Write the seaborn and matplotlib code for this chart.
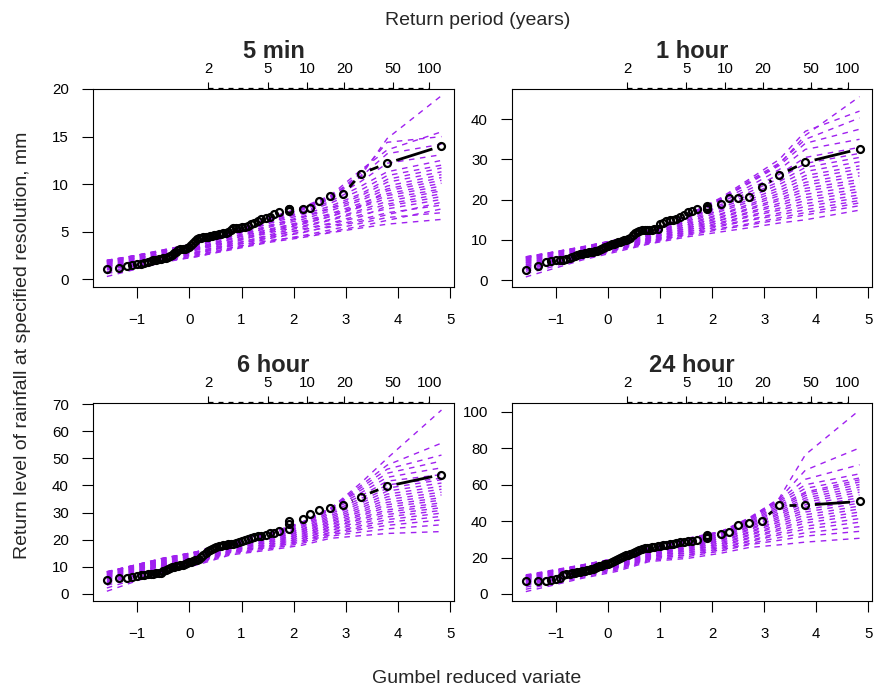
import numpy as np
import pandas as pd
import matplotlib
matplotlib.use("Agg")
import matplotlib.pyplot as plt
import matplotlib.transforms as mtransforms
import seaborn as sns

# Gumbel reduced variate of each observed annual maximum (rank 1..70)
obs_x = [-1.58, -1.34, -1.20, -1.09, -1.00, -0.93, -0.86, -0.80, -0.74, -0.69,
         -0.64, -0.59, -0.54, -0.50, -0.45, -0.41, -0.37, -0.33, -0.29, -0.25,
         -0.21, -0.17, -0.13, -0.09, -0.05, -0.01, 0.03, 0.07, 0.11, 0.15,
         0.19, 0.23, 0.27, 0.31, 0.35, 0.39, 0.43, 0.47, 0.52, 0.56,
         0.60, 0.65, 0.70, 0.74, 0.79, 0.84, 0.89, 0.95, 1.00, 1.06,
         1.12, 1.18, 1.24, 1.31, 1.38, 1.46, 1.54, 1.62, 1.71, 1.90,
         1.90, 1.90, 2.17, 2.32, 2.49, 2.70, 2.95, 3.29, 3.79, 4.83]

# positions (ranks 1, 14, 30, 45, 57, 63, 66, 68, 69, 70) where the simulated members were read
sim_x = [-1.58, -0.50, 0.15, 0.79, 1.54, 2.17, 2.70, 3.29, 3.79, 4.83]

durations = ["5 min", "1 hour", "6 hour", "24 hour"]
return_periods = [2, 5, 10, 20, 50, 100]

obs_5min = [1.1, 1.2, 1.45, 1.55, 1.6, 1.65, 1.7, 1.85, 1.95, 2.0,
            2.05, 2.1, 2.15, 2.2, 2.25, 2.35, 2.5, 2.6, 2.75, 2.9,
            3.05, 3.15, 3.2, 3.2, 3.3, 3.45, 3.65, 3.85, 4.0, 4.2,
            4.3, 4.35, 4.4, 4.45, 4.5, 4.55, 4.6, 4.65, 4.7, 4.75,
            4.8, 4.85, 4.9, 5.0, 5.2, 5.35, 5.4, 5.45, 5.5, 5.55,
            5.65, 5.8, 5.9, 6.1, 6.3, 6.45, 6.6, 6.9, 7.1, 7.2,
            7.35, 7.4, 7.4, 7.45, 8.25, 8.8, 8.95, 11.1, 12.2, 14.0]

obs_1hr = [2.6, 3.6, 4.4, 4.8, 4.9, 5.0, 5.1, 5.2, 5.4, 5.7,
           5.9, 6.2, 6.4, 6.6, 6.7, 6.8, 6.9, 7.0, 7.1, 7.2,
           7.3, 7.5, 7.7, 8.0, 8.2, 8.4, 8.7, 8.9, 9.1, 9.3,
           9.4, 9.55, 9.7, 9.9, 10.1, 10.3, 10.5, 11.2, 11.6, 12.0,
           12.2, 12.4, 12.45, 12.5, 12.5, 12.5, 12.6, 12.7, 14.0, 14.3,
           14.6, 14.9, 15.0, 15.1, 15.8, 16.3, 16.9, 17.3, 17.6, 17.7,
           18.0, 18.4, 18.9, 20.3, 20.3, 20.7, 23.1, 26.1, 29.3, 32.6]

obs_6hr = [5.3, 5.8, 6.0, 6.1, 6.6, 7.0, 7.1, 7.2, 7.3, 7.45,
           7.55, 7.65, 7.8, 8.3, 8.9, 9.2, 9.5, 9.8, 10.0, 10.2,
           10.4, 10.6, 10.8, 11.0, 11.3, 11.6, 11.8, 12.0, 12.4, 12.7,
           13.0, 13.5, 14.3, 15.1, 15.7, 16.1, 16.5, 16.9, 17.2, 17.5,
           17.7, 18.0, 18.2, 18.3, 18.4, 18.5, 18.9, 19.2, 19.4, 19.8,
           20.1, 20.8, 21.0, 21.2, 21.5, 21.9, 22.3, 22.6, 23.2, 24.0,
           25.7, 26.9, 27.6, 29.4, 31.1, 31.8, 32.9, 35.9, 39.7, 44.0]

obs_24hr = [7.3, 7.3, 7.3, 7.6, 8.2, 9.0, 10.4, 10.8, 11.2, 11.5,
            11.8, 12.1, 12.3, 12.5, 12.8, 13.1, 13.4, 13.7, 14.0, 14.3,
            14.7, 15.1, 15.5, 15.9, 16.3, 16.7, 17.1, 17.5, 18.0, 18.6,
            19.2, 19.7, 20.2, 20.7, 21.2, 21.6, 22.1, 22.6, 23.0, 23.5,
            24.1, 24.6, 25.0, 25.2, 25.4, 25.6, 26.0, 26.3, 26.6, 26.9,
            27.1, 27.3, 27.6, 27.9, 28.3, 28.6, 28.9, 29.2, 29.4, 30.6,
            31.5, 32.3, 33.0, 34.0, 38.0, 39.1, 40.2, 48.8, 48.8, 50.8]

sim_5min = [
    [0.3, 1.8, 2.4, 3.1, 3.9, 4.4, 4.9, 5.4, 5.8, 6.3],
    [0.6, 1.9, 2.4, 3.2, 4.0, 4.6, 5.2, 5.9, 6.5, 7.0],
    [1.2, 2.1, 2.6, 3.3, 4.1, 4.5, 5.0, 5.6, 6.2, 7.4],
    [0.8, 2.0, 2.5, 3.3, 4.3, 4.9, 5.6, 6.3, 7.0, 7.8],
    [1.4, 2.3, 2.8, 3.5, 4.4, 5.0, 5.5, 6.1, 6.8, 8.1],
    [1.0, 2.1, 2.7, 3.5, 4.5, 5.3, 5.9, 6.8, 7.4, 8.4],
    [1.6, 2.4, 2.9, 3.7, 4.6, 5.2, 5.8, 6.6, 7.7, 8.7],
    [1.1, 2.2, 2.8, 3.6, 4.7, 5.5, 6.2, 7.1, 7.9, 9.0],
    [1.7, 2.5, 3.1, 3.9, 4.9, 5.6, 6.3, 7.3, 8.2, 9.3],
    [1.3, 2.3, 2.9, 3.8, 5.0, 5.8, 6.6, 7.6, 8.5, 9.5],
    [1.8, 2.6, 3.2, 4.0, 5.1, 5.9, 6.6, 7.7, 8.8, 9.8],
    [1.5, 2.4, 3.1, 4.0, 5.2, 6.1, 6.9, 8.0, 9.0, 10.1],
    [1.9, 2.7, 3.3, 4.2, 5.3, 6.0, 6.8, 7.8, 9.3, 10.4],
    [1.4, 2.5, 3.2, 4.2, 5.5, 6.3, 7.2, 8.3, 9.5, 10.7],
    [1.8, 2.7, 3.4, 4.3, 5.6, 6.5, 7.4, 8.5, 9.8, 11.0],
    [1.6, 2.6, 3.3, 4.4, 5.7, 6.6, 7.5, 8.8, 10.2, 11.3],
    [2.0, 2.9, 3.6, 4.5, 5.9, 6.8, 7.7, 9.0, 10.5, 11.7],
    [1.7, 2.8, 3.5, 4.6, 6.0, 7.0, 8.0, 9.4, 10.9, 12.0],
    [1.9, 3.0, 3.7, 4.7, 6.1, 7.1, 8.2, 9.8, 11.3, 12.5],
    [1.8, 2.9, 3.6, 4.7, 6.2, 7.3, 8.4, 10.3, 12.2, 13.1],
    [2.0, 3.0, 3.7, 4.8, 6.3, 7.4, 8.5, 10.8, 13.2, 14.2],
    [1.9, 3.1, 3.8, 4.8, 6.4, 7.5, 8.6, 11.2, 14.4, 15.0],
    [2.0, 3.0, 3.7, 4.9, 6.5, 7.6, 8.8, 11.5, 13.6, 15.5],
    [1.9, 3.1, 3.8, 4.9, 6.4, 7.5, 8.7, 10.9, 14.8, 19.3],
]

sim_1hr = [
    [0.8, 5.0, 7.0, 9.0, 10.8, 12.0, 13.0, 14.2, 15.0, 17.4],
    [1.6, 5.3, 7.3, 9.2, 11.2, 12.6, 13.7, 15.0, 16.2, 18.5],
    [2.9, 5.8, 7.6, 9.4, 11.5, 12.9, 14.0, 15.5, 16.8, 19.2],
    [2.2, 5.5, 7.5, 9.5, 11.7, 13.4, 14.8, 16.2, 17.5, 19.8],
    [3.4, 6.0, 7.8, 9.7, 12.0, 13.7, 15.0, 16.7, 18.3, 20.5],
    [2.6, 5.7, 7.6, 9.7, 12.2, 14.1, 15.7, 17.4, 19.0, 21.2],
    [3.8, 6.3, 8.1, 9.9, 12.5, 14.4, 16.0, 17.9, 19.8, 22.0],
    [3.1, 6.1, 8.0, 10.0, 12.7, 14.9, 16.6, 18.6, 20.5, 22.7],
    [4.2, 6.6, 8.3, 10.2, 13.0, 15.0, 16.9, 19.1, 21.3, 23.5],
    [3.5, 6.4, 8.2, 10.3, 13.2, 15.5, 17.5, 19.8, 22.1, 24.3],
    [4.5, 6.9, 8.5, 10.5, 13.5, 15.8, 17.8, 20.3, 22.8, 25.0],
    [3.9, 6.7, 8.5, 10.6, 13.8, 16.3, 18.4, 21.0, 23.6, 25.9],
    [4.8, 7.2, 8.8, 10.8, 14.1, 16.5, 18.8, 21.6, 24.3, 26.7],
    [4.3, 7.0, 8.9, 11.0, 14.4, 17.1, 19.4, 22.3, 25.2, 27.6],
    [5.1, 7.5, 9.1, 11.2, 14.7, 17.5, 19.9, 23.0, 26.0, 28.4],
    [4.7, 7.3, 9.2, 11.3, 15.0, 18.0, 20.5, 23.8, 27.0, 29.4],
    [5.4, 7.8, 9.4, 11.6, 15.4, 18.4, 21.1, 24.5, 28.0, 30.5],
    [5.0, 7.6, 9.5, 11.8, 15.6, 18.8, 21.8, 25.3, 29.0, 31.5],
    [5.6, 8.0, 9.8, 12.0, 16.0, 19.4, 22.5, 26.3, 30.5, 33.0],
    [5.3, 7.9, 9.8, 12.2, 16.1, 19.9, 23.2, 27.5, 32.5, 35.0],
    [5.8, 8.2, 10.0, 12.4, 16.3, 20.3, 24.0, 28.5, 34.0, 37.5],
    [5.5, 8.1, 9.9, 12.3, 16.2, 20.1, 24.6, 29.1, 35.0, 40.3],
    [5.7, 8.3, 10.0, 12.4, 16.3, 20.5, 25.0, 30.0, 37.0, 42.0],
    [5.8, 8.2, 9.9, 12.3, 16.1, 20.0, 24.2, 28.8, 36.0, 45.6],
]

sim_6hr = [
    [1.0, 8.2, 10.7, 14.4, 16.2, 18.0, 20.5, 21.5, 22.3, 23.0],
    [2.2, 8.6, 11.1, 14.8, 16.7, 18.7, 21.3, 22.8, 24.0, 25.5],
    [4.5, 9.4, 11.7, 15.3, 17.2, 19.2, 21.8, 23.8, 25.3, 27.3],
    [3.2, 9.0, 11.5, 15.2, 17.3, 19.6, 22.4, 24.5, 26.4, 28.6],
    [5.3, 9.8, 12.1, 15.7, 17.7, 20.0, 22.7, 25.2, 27.4, 29.8],
    [4.0, 9.5, 12.0, 15.7, 17.9, 20.5, 23.4, 26.0, 28.4, 30.8],
    [6.0, 10.3, 12.5, 16.1, 18.3, 20.8, 23.8, 26.7, 29.3, 31.8],
    [4.8, 10.0, 12.4, 16.2, 18.6, 21.3, 24.4, 27.5, 30.2, 32.7],
    [6.5, 10.7, 12.9, 16.6, 19.0, 21.6, 24.8, 28.1, 31.0, 33.6],
    [5.6, 10.5, 12.9, 16.7, 19.3, 22.1, 25.4, 28.9, 32.0, 34.6],
    [7.0, 11.1, 13.3, 17.1, 19.6, 22.4, 25.9, 29.5, 32.9, 35.5],
    [6.2, 10.9, 13.4, 17.2, 20.0, 22.9, 26.5, 30.3, 33.8, 36.5],
    [7.3, 11.5, 13.8, 17.5, 20.3, 23.2, 27.0, 31.0, 34.8, 37.5],
    [6.7, 11.3, 13.9, 17.7, 20.7, 23.7, 27.6, 31.8, 35.8, 38.6],
    [7.6, 11.9, 14.3, 18.0, 21.0, 24.0, 28.2, 32.6, 36.8, 39.7],
    [7.1, 11.8, 14.5, 18.2, 21.3, 24.6, 28.8, 33.5, 37.9, 40.9],
    [7.9, 12.3, 14.8, 18.5, 21.6, 25.0, 29.5, 34.3, 39.0, 42.1],
    [7.5, 12.2, 15.0, 18.7, 21.9, 25.5, 30.1, 35.2, 40.2, 42.7],
    [8.1, 12.7, 15.3, 19.0, 22.1, 25.9, 30.8, 36.2, 41.6, 44.0],
    [7.8, 12.6, 15.4, 19.1, 22.3, 26.2, 31.2, 37.3, 43.0, 46.5],
    [8.2, 13.0, 15.6, 19.3, 22.4, 26.6, 31.6, 38.3, 44.5, 49.0],
    [8.0, 13.2, 15.5, 19.2, 22.3, 26.4, 31.3, 39.2, 46.0, 51.2],
    [8.2, 13.1, 15.6, 19.3, 22.4, 26.5, 31.5, 40.0, 47.5, 55.6],
    [8.1, 13.2, 15.5, 19.2, 22.2, 26.3, 31.4, 41.0, 50.0, 67.8],
]

sim_24hr = [
    [1.3, 8.6, 12.3, 17.8, 19.6, 22.4, 25.5, 27.0, 28.5, 30.6],
    [2.6, 9.2, 13.0, 18.4, 20.6, 23.6, 27.0, 29.5, 31.8, 34.4],
    [5.5, 10.6, 14.2, 19.2, 21.4, 24.3, 27.6, 31.0, 33.6, 37.0],
    [3.8, 9.8, 13.6, 19.0, 21.7, 25.0, 28.7, 32.5, 35.6, 39.4],
    [6.4, 11.3, 14.8, 19.8, 22.5, 25.6, 29.2, 33.6, 37.2, 41.4],
    [4.8, 10.5, 14.3, 19.7, 22.9, 26.3, 30.4, 35.0, 39.0, 43.3],
    [7.1, 11.9, 15.4, 20.4, 23.6, 27.0, 30.9, 36.0, 40.5, 45.0],
    [5.7, 11.2, 15.0, 20.4, 24.0, 27.6, 32.0, 37.3, 42.0, 46.7],
    [7.7, 12.5, 16.0, 21.0, 24.6, 28.2, 32.5, 38.3, 43.5, 48.3],
    [6.5, 11.9, 15.7, 21.1, 25.1, 28.9, 33.5, 39.5, 45.0, 49.9],
    [8.2, 13.1, 16.6, 21.7, 25.6, 29.4, 34.0, 40.5, 46.3, 51.4],
    [7.2, 12.6, 16.4, 21.8, 26.1, 30.0, 35.0, 41.6, 47.7, 52.9],
    [8.7, 13.7, 17.2, 22.4, 26.6, 30.6, 35.5, 42.6, 49.0, 54.4],
    [7.9, 13.3, 17.1, 22.5, 27.1, 31.2, 36.4, 43.7, 50.3, 55.9],
    [9.1, 14.3, 17.8, 23.1, 27.7, 31.7, 37.0, 44.6, 51.5, 57.3],
    [8.5, 14.0, 17.8, 23.2, 28.2, 32.3, 37.8, 45.7, 52.7, 58.7],
    [9.5, 14.9, 18.4, 23.8, 28.7, 32.8, 38.4, 46.7, 54.0, 60.1],
    [9.0, 14.7, 18.5, 23.9, 29.2, 33.3, 39.2, 47.7, 55.2, 61.5],
    [9.9, 15.4, 19.0, 24.4, 29.7, 33.8, 39.8, 48.7, 56.0, 62.7],
    [9.5, 15.3, 19.1, 24.6, 30.1, 34.1, 40.5, 49.8, 58.0, 63.7],
    [10.2, 15.8, 19.5, 25.0, 30.5, 34.3, 41.0, 50.8, 60.0, 66.0],
    [9.8, 15.7, 19.4, 24.9, 30.4, 34.2, 41.3, 51.5, 63.0, 71.0],
    [10.5, 16.0, 19.6, 25.1, 30.7, 34.3, 41.7, 52.2, 68.0, 80.2],
    [10.0, 15.9, 19.5, 24.8, 30.3, 34.0, 41.2, 52.7, 76.5, 101.0],
]

obs_all = [obs_5min, obs_1hr, obs_6hr, obs_24hr]
sim_all = [sim_5min, sim_1hr, sim_6hr, sim_24hr]

# axis settings per panel
ylims = [(-0.8, 20.0), (-1.7, 47.5), (-2.6, 70.4), (-3.85, 104.9)]
yticks = [range(0, 21, 5), range(0, 41, 10), range(0, 71, 10), range(0, 101, 20)]
xlim = (-1.84, 5.07)
PURPLE = "#A020F0"


def gumbel_to_T(x):
    with np.errstate(all="ignore"):
        return 1.0 / (-np.expm1(-np.exp(-np.asarray(x, dtype=float))))


def T_to_gumbel(T):
    T = np.clip(np.asarray(T, dtype=float), 1.0 + 1e-9, None)
    with np.errstate(all="ignore"):
        return -np.log(-np.log1p(-1.0 / T))


sns.set_style("ticks")
plt.rcParams["font.family"] = ["Liberation Sans", "DejaVu Sans"]

W, H = 877, 689
fig = plt.figure(figsize=(W / 100, H / 100), dpi=100)

# panel boxes in pixels: left, top, right, bottom
boxes = [(93.3, 89, 454, 287), (512.3, 89, 872, 287),
         (93.3, 403, 454, 601), (512.3, 403, 872, 601)]


def draw_type_b(ax, x, y, gap=9.5):
    # R style type="b": line segments stop short of each point
    pts = ax.transData.transform(np.column_stack([x, y]))
    inv = ax.transData.inverted()
    for p0, p1 in zip(pts[:-1], pts[1:]):
        d = p1 - p0
        L = np.hypot(*d)
        if L <= 2 * gap:
            continue
        u = d / L
        a, b = inv.transform(np.vstack([p0 + u * gap, p1 - u * gap]))
        ax.plot([a[0], b[0]], [a[1], b[1]], color="black", lw=2.0,
                solid_capstyle="butt", zorder=4)


for k, (title, obs, sims) in enumerate(zip(durations, obs_all, sim_all)):
    l, t, r, b = boxes[k]
    ax = fig.add_axes([l / W, 1 - b / H, (r - l) / W, (b - t) / H])

    df = pd.DataFrame({
        "member": np.repeat(np.arange(len(sims)), len(sim_x)),
        "x": np.tile(sim_x, len(sims)),
        "y": np.concatenate(sims),
    })
    sns.lineplot(data=df, x="x", y="y", units="member", estimator=None,
                 color=PURPLE, lw=1.0, linestyle=(0, (4, 4)), legend=False,
                 ax=ax, zorder=2)

    ax.set_xlim(*xlim)
    ax.set_ylim(*ylims[k])
    ax.set_xticks(range(-1, 6))
    ax.set_yticks(list(yticks[k]))
    ax.set_xlabel("")
    ax.set_ylabel("")

    draw_type_b(ax, obs_x, obs)
    ax.plot(obs_x, obs, linestyle="none", marker="o", ms=5, mew=1.6,
            mfc="none", mec="black", zorder=5)

    for s in ax.spines.values():
        s.set_visible(True)
        s.set_color("black")
        s.set_linewidth(0.8)
    ax.tick_params(axis="both", direction="out", length=8, width=0.8,
                   colors="black", labelsize=10.8)
    ax.tick_params(axis="x", pad=11)
    ax.tick_params(axis="y", pad=9.5)

    sec = ax.secondary_xaxis("top", functions=(gumbel_to_T, T_to_gumbel))
    sec.set_xticks(return_periods)
    sec.set_xticklabels([str(v) for v in return_periods])
    sec.tick_params(direction="out", length=5, width=0.8, colors="black",
                    labelsize=10.8, pad=4)
    sec.spines["top"].set_visible(False)
    top_tr = mtransforms.offset_copy(ax.get_xaxis_transform(), fig=fig,
                                     y=0.7, units="dots")
    ax.plot([T_to_gumbel(2), T_to_gumbel(100)], [1.0, 1.0], transform=top_tr,
            color="black", lw=0.9, linestyle=(0, (4, 4)), clip_on=False,
            zorder=6)

    tr = mtransforms.offset_copy(ax.transAxes, fig=fig, y=31, units="dots")
    ax.text(0.5, 1.0, title, transform=tr, ha="center", va="baseline",
            fontsize=17, fontweight="bold", family="Liberation Sans")

fig.text(477.5 / W, 1 - 25 / H, "Return period (years)", ha="center",
         va="baseline", fontsize=14)
fig.text(477 / W, 1 - 683 / H, "Gumbel reduced variate", ha="center",
         va="baseline", fontsize=14)
fig.text(27 / W, 1 - 345 / H, "Return level of rainfall at specified resolution, mm",
         rotation=90, rotation_mode="anchor", ha="center", va="baseline",
         fontsize=14)

fig.savefig("out.png", dpi=100)
